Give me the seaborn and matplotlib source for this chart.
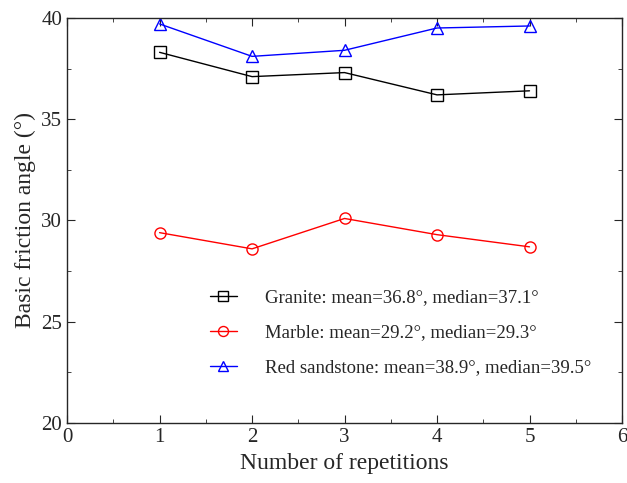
import matplotlib
matplotlib.use("Agg")
import matplotlib.pyplot as plt
import seaborn as sns
import pandas as pd
from matplotlib.ticker import MultipleLocator

reps = [1, 2, 3, 4, 5]
granite = [38.3, 37.1, 37.3, 36.2, 36.4]
marble = [29.4, 28.6, 30.1, 29.3, 28.7]
sandstone = [39.7, 38.1, 38.4, 39.5, 39.6]
labels = ["Granite: mean=36.8°, median=37.1°",
          "Marble: mean=29.2°, median=29.3°",
          "Red sandstone: mean=38.9°, median=39.5°"]

sns.set_style("ticks")
plt.rcParams['font.family'] = ['Liberation Serif', 'DejaVu Serif']

fig = plt.figure(figsize=(6.27, 4.83), dpi=100)
ax = fig.add_axes([0.107, 0.124, 0.885, 0.839])

series = [(granite, 'black', 's', labels[0]),
          (marble, 'red', 'o', labels[1]),
          (sandstone, 'blue', '^', labels[2])]
for vals, col, mk, lab in series:
    df = pd.DataFrame({'x': reps, 'y': vals})
    sns.lineplot(data=df, x='x', y='y', ax=ax, color=col, marker=mk,
                 markersize=8, markerfacecolor='none', markeredgecolor=col,
                 markeredgewidth=1.0, linewidth=1.0, label=lab)

ax.set_xlim(0, 6)
ax.set_ylim(20, 40)
ax.xaxis.set_major_locator(MultipleLocator(1))
ax.xaxis.set_minor_locator(MultipleLocator(0.5))
ax.yaxis.set_major_locator(MultipleLocator(5))
ax.yaxis.set_minor_locator(MultipleLocator(2.5))
ax.tick_params(which='both', direction='in', top=True, right=True, labelsize=15)
ax.tick_params(which='major', length=6)
ax.tick_params(which='minor', length=3)
for s in ax.spines.values():
    s.set_linewidth(1.0)
ax.set_xlabel("Number of repetitions", fontsize=17)
ax.set_ylabel("Basic friction angle (°)", fontsize=17)

leg = ax.legend(loc='upper left', bbox_to_anchor=(0.258, 0.33), frameon=False,
                fontsize=13.5, handlelength=1.4, labelspacing=0.95,
                handletextpad=1.5, borderaxespad=0, borderpad=0, markerscale=0.9)

fig.savefig("out.png", dpi=100)
